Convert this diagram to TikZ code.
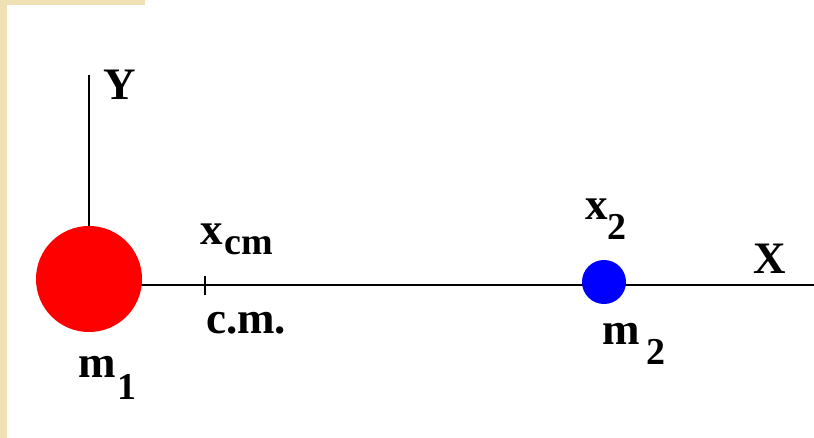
\documentclass[tikz,border=0pt]{standalone}
\usepackage{fontspec}
\setmainfont{Liberation Serif}
\usepackage{xcolor}
\usetikzlibrary{calc}
\definecolor{frame}{HTML}{F0E1B4}
\definecolor{massone}{HTML}{FF0000}
\definecolor{masstwo}{HTML}{0000FF}
\newcommand{\lblfont}{\fontsize{32}{32}\selectfont\bfseries}
\newcommand{\subfont}{\fontsize{27}{27}\selectfont\bfseries}
% letter, kern, drop, subscript
\newcommand{\msub}[4]{#1\kern#2\raisebox{-#3}{\subfont #4}}

\begin{document}
\begin{tikzpicture}[x=0.025cm, y=-0.025cm,
  axis/.style={line width=2.1pt},
  lbl/.style={font=\lblfont, inner sep=0pt, anchor=base west}]
\useasboundingbox (0,0) rectangle (814,438);
\fill[white] (0,0) rectangle (814,438);

% --- Frame of the page ---
\fill[frame] (0,0) rectangle (7,438);
\fill[frame] (0,0) rectangle (145,5);

% --- Axes ---
\coordinate (origin) at (89,285);
\coordinate (xend) at (814,285);
\coordinate (ytop) at (89,75);
\draw[axis] (origin) -- (xend);

% --- Masses ---
\node[circle, fill=massone, inner sep=0pt, minimum size=2.65cm] (m1disc) at (89,279) {};
\node[circle, fill=masstwo, inner sep=0pt, minimum size=1.1cm] (m2disc) at (604,282) {};
\draw[axis] (m1disc.north) -- (ytop);

% --- Centre of mass tick ---
\coordinate (cm) at (205,285);
\draw[line width=1.5pt] ($(cm)+(0,-9)$) -- ($(cm)+(0,10)$);

% --- Labels ---
\node[lbl] (ylbl) at (103,100) {Y};
\node[lbl] (xlbl) at (753,274) {X};
\node[lbl] (xcmlbl) at (200,245) {\msub{x}{1pt}{7pt}{cm}};
\node[lbl] (cmlbl) at (206,333) {c.m.};
\node[lbl] (m1lbl) at (78,377) {\msub{m}{1pt}{16pt}{1}};
\node[lbl] (x2lbl) at (585,220) {\msub{x}{0pt}{14pt}{2}};
\node[lbl] (m2lbl) at (602,345) {\msub{m}{5pt}{14pt}{2}};
\end{tikzpicture}
\end{document}
